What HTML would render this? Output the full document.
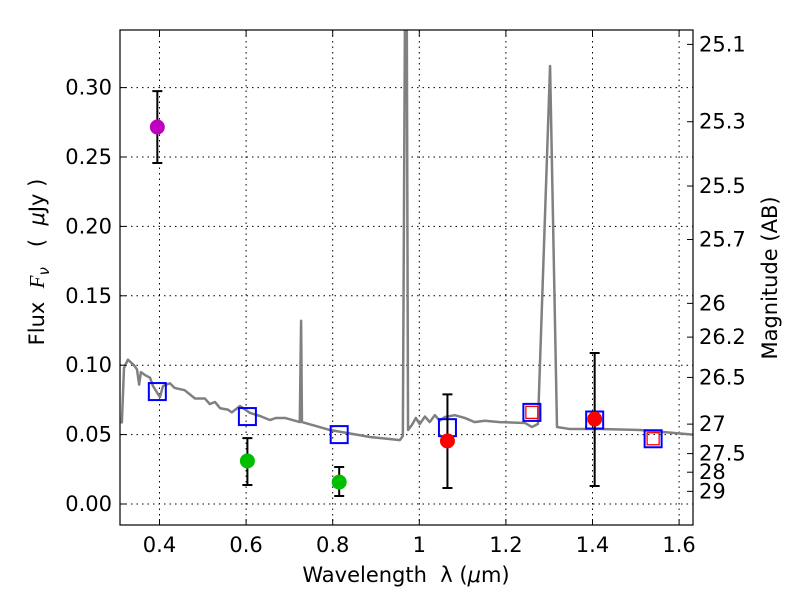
<!DOCTYPE html>
<html><head><meta charset="utf-8"><style>
body{margin:0;background:#fff;}
svg{font-family:"DejaVu Sans","Liberation Sans",sans-serif;}
</style></head><body>
<svg id="chart" width="800" height="600" viewBox="0 0 800 600" xmlns="http://www.w3.org/2000/svg">
<rect width="800" height="600" fill="#fff"/>
<g id="grid"></g>
<g id="spec"></g>
<g id="marks"></g>
<rect x="120" y="30" width="573" height="495" fill="none" stroke="#000" stroke-width="1.2"/>
<g id="axes"></g>
<text x="406" y="582" font-size="21" text-anchor="middle" xml:space="preserve">Wavelength  λ (<tspan font-style="italic">μ</tspan>m)</text>
<text transform="translate(44,262) rotate(-90)" font-size="21" text-anchor="middle" xml:space="preserve">Flux  <tspan font-style="italic" font-family="Liberation Serif, serif">F</tspan><tspan font-style="italic" font-size="15" dy="5">ν</tspan><tspan dy="-5">   (  </tspan><tspan font-style="italic">μ</tspan>Jy )</text>
<text transform="translate(777,278) rotate(-90)" font-size="21" text-anchor="middle">Magnitude (AB)</text>
</svg>
<script>
const xTicks=[0.4,0.6,0.8,1.0,1.2,1.4,1.6];
const xTickLabels=["0.4","0.6","0.8","1","1.2","1.4","1.6"];
const yTicks=[0,0.05,0.1,0.15,0.2,0.25,0.3];
const yTickLabels=["0.00","0.05","0.10","0.15","0.20","0.25","0.30"];
const magTicks=[25.1,25.3,25.5,25.7,26,26.2,26.5,27,27.5,28,29];
const magLabels=["25.1","25.3","25.5","25.7","26","26.2","26.5","27","27.5","28","29"];
const specLam=[0.313,0.318,0.327,0.334,0.341,0.348,0.353,0.357,0.366,0.378,0.385,0.401,0.408,0.424,0.435,0.458,0.482,0.505,0.516,0.528,0.540,0.558,0.567,0.586,0.609,0.632,0.655,0.669,0.69,0.724,0.727,0.729,0.794,0.886,0.955,0.962,0.967,0.971,0.974,0.983,0.992,1.001,1.013,1.024,1.036,1.047,1.059,1.082,1.105,1.128,1.151,1.186,1.244,1.26,1.274,1.302,1.318,1.348,1.417,1.510,1.632];
const specFlux=[0.058,0.098,0.104,0.102,0.100,0.097,0.086,0.095,0.093,0.091,0.085,0.077,0.085,0.087,0.0836,0.082,0.076,0.076,0.072,0.0735,0.069,0.068,0.066,0.0706,0.0656,0.0634,0.0605,0.062,0.062,0.059,0.132,0.059,0.0533,0.0483,0.046,0.049,0.36,0.36,0.0533,0.057,0.062,0.0576,0.063,0.059,0.064,0.060,0.0627,0.064,0.062,0.059,0.060,0.059,0.0584,0.0555,0.0576,0.3156,0.0555,0.054,0.054,0.0533,0.050];
const modelLam=[0.395,0.603,0.815,1.065,1.26,1.405,1.54];
const modelFlux=[0.081,0.063,0.050,0.055,0.066,0.0605,0.047];
const redSqLam=[1.26,1.54];
const redSqFlux=[0.066,0.047];
const obsLam=[0.395,0.603,0.815,1.065,1.405];
const obsFlux=[0.2716,0.031,0.0158,0.0454,0.0612];
const obsLo=[0.2457,0.0137,0.0058,0.0115,0.013];
const obsHi=[0.2975,0.0475,0.0267,0.079,0.1088];
const obsColor=["#bf00bf","#00bf00","#00bf00","#ff0000","#ff0000"];
const X=l=>159.5+(l-0.4)*433;
const Y=f=>504-f*1388;
const NS="http://www.w3.org/2000/svg";
function mk(p,t,a){const e=document.createElementNS(NS,t);for(const k in a)e.setAttribute(k,a[k]);p.appendChild(e);return e;}
const grid=document.getElementById('grid'),axes=document.getElementById('axes'),spec=document.getElementById('spec'),marks=document.getElementById('marks');
xTicks.forEach((v,i)=>{const x=X(v);
 const g=mk(grid,'line',{x1:x,x2:x,y1:30,y2:525,stroke:'#000','stroke-dasharray':'1.5,4','stroke-width':1});
 
 mk(axes,'line',{x1:x,x2:x,y1:525,y2:519,stroke:'#000'});mk(axes,'line',{x1:x,x2:x,y1:30,y2:36,stroke:'#000'});
 const t=mk(axes,'text',{x:x,y:552,'font-size':21,'text-anchor':'middle'});t.textContent=xTickLabels[i];
 });
yTicks.forEach((v,i)=>{const y=Y(v);
 const g=mk(grid,'line',{x1:120,x2:693,y1:y,y2:y,stroke:'#000','stroke-dasharray':'1.5,4','stroke-width':1});
 
 mk(axes,'line',{x1:120,x2:126,y1:y,y2:y,stroke:'#000'});
 const t=mk(axes,'text',{x:112,y:y+7,'font-size':21,'text-anchor':'end'});t.textContent=yTickLabels[i];
 });
magTicks.forEach((m,i)=>{const y=Y(Math.pow(10,(23.9-m)/2.5));
 mk(axes,'line',{x1:687,x2:693,y1:y,y2:y,stroke:'#000'});
 const t=mk(axes,'text',{x:699,y:y+7,'font-size':21});t.textContent=magLabels[i];
 });
const cp=mk(document.getElementById('chart'),'clipPath',{id:'clip'});mk(cp,'rect',{x:120,y:30,width:573,height:495});
spec.setAttribute('clip-path','url(#clip)');
const sp=mk(spec,'polyline',{points:specLam.map((l,i)=>X(l)+','+Y(specFlux[i])).join(' '),fill:'none',stroke:'#808080','stroke-width':2.5,'stroke-linejoin':'round'});

modelLam.forEach((l,i)=>{const r=mk(marks,'rect',{x:X(l)-8.5,y:Y(modelFlux[i])-8.5,width:17,height:17,fill:'none',stroke:'#0000ff','stroke-width':2});
 });
redSqLam.forEach((l,i)=>{const r=mk(marks,'rect',{x:X(l)-6,y:Y(redSqFlux[i])-6,width:12,height:12,fill:'none',stroke:'#ff0000','stroke-width':1.3});
 });
obsLam.forEach((l,i)=>{const x=X(l);
 const e=mk(marks,'path',{d:`M${x},${Y(obsLo[i])}V${Y(obsHi[i])}M${x-5},${Y(obsLo[i])}H${x+5}M${x-5},${Y(obsHi[i])}H${x+5}`,stroke:'#000','stroke-width':2,fill:'none'});
 
 const c=mk(marks,'circle',{cx:x,cy:Y(obsFlux[i]),r:7.5,fill:obsColor[i]});
 });
</script>
</body></html>
